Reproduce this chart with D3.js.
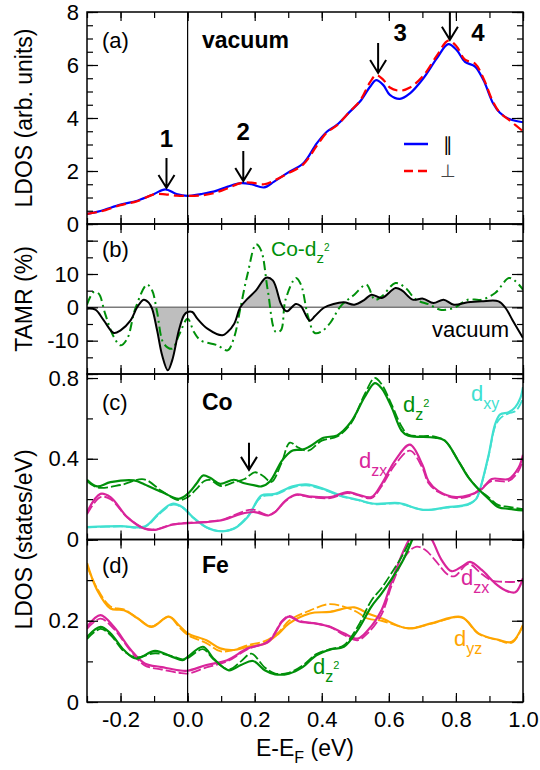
<!DOCTYPE html>
<html>
<head>
<meta charset="utf-8">
<script src="https://cdn.jsdelivr.net/npm/d3@7"></script>
<style>
    body { margin: 0; background: #fff; }
    svg text { font-family: "Liberation Sans", Arial, Helvetica, sans-serif; }
</style>
</head>
<body>
<svg id="chart" width="540" height="770"></svg>
<script>
// ---------- Data (energies in eV) ----------

// (a) vacuum LDOS, arb. units
var ldosPar = [[-0.30,0.38],[-0.26,0.49],[-0.20,0.73],[-0.15,0.88],[-0.10,1.13],[-0.067,1.31],[-0.033,1.13],[0.0,1.06],[0.04,1.13],[0.08,1.23],[0.12,1.41],[0.16,1.54],[0.19,1.50],[0.228,1.38],[0.258,1.6],[0.298,1.93],[0.345,2.29],[0.385,3.04],[0.415,3.48],[0.445,3.74],[0.484,4.24],[0.514,4.62],[0.544,5.18],[0.562,5.43],[0.583,5.25],[0.603,4.87],[0.633,4.72],[0.663,4.93],[0.703,5.5],[0.743,6.25],[0.777,6.79],[0.802,6.57],[0.827,6.12],[0.857,5.94],[0.882,5.43],[0.911,4.55],[0.931,4.2],[0.961,3.95],[1.0,3.84]];
var ldosPerp = [[-0.30,0.38],[-0.26,0.47],[-0.20,0.71],[-0.15,0.86],[-0.10,1.12],[-0.067,1.12],[-0.033,1.07],[0.0,1.06],[0.04,1.08],[0.08,1.17],[0.12,1.35],[0.16,1.55],[0.19,1.56],[0.228,1.5],[0.258,1.64],[0.298,1.9],[0.345,2.25],[0.385,2.95],[0.415,3.45],[0.445,3.72],[0.484,4.25],[0.514,4.65],[0.544,5.35],[0.562,5.62],[0.583,5.45],[0.603,5.15],[0.633,5.03],[0.663,5.15],[0.703,5.6],[0.743,6.35],[0.777,6.92],[0.802,6.7],[0.827,6.2],[0.857,6.05],[0.882,5.5],[0.911,4.6],[0.931,4.2],[0.961,3.9],[1.0,3.5]];
var peakEnergies = [-0.063, 0.166, 0.568, 0.782];
var peakHeights = [1.36, 1.62, 5.70, 6.95];
var peakLabels = ['1', '2', '3', '4'];

// (b) TAMR, %
var tamrVacuum = [[-0.30,-0.4],[-0.275,-0.7],[-0.25,-3.9],[-0.22,-7.7],[-0.20,-6.9],[-0.17,-3.9],[-0.15,0.1],[-0.131,2.3],[-0.116,1.4],[-0.106,-0.4],[-0.091,-6.9],[-0.076,-14.4],[-0.059,-18.9],[-0.046,-15.9],[-0.026,-6.9],[-0.011,-2.4],[0.0,-1.4],[0.014,-1.4],[0.029,-3.4],[0.059,-6.4],[0.104,-8.4],[0.119,-7.4],[0.139,-4.9],[0.157,0],[0.179,2.6],[0.204,5.1],[0.234,8.9],[0.254,8.1],[0.278,1.1],[0.29,-0.9],[0.297,-1.2],[0.323,1.0],[0.338,0.3],[0.364,-4.0],[0.379,-2.7],[0.405,-0.2],[0.435,1.0],[0.466,1.5],[0.497,0.8],[0.528,2.3],[0.548,3.8],[0.579,2.8],[0.62,5.8],[0.64,5.0],[0.671,2.3],[0.702,2.6],[0.733,1.3],[0.763,2.3],[0.794,0.8],[0.835,1.5],[0.876,1.8],[0.927,1.8],[0.948,-0.2],[0.968,-3.7],[1.0,-9.2]];
var tamrCoDz2 = [[-0.30,0.8],[-0.28,4.6],[-0.265,4.1],[-0.246,-1.9],[-0.22,-8.9],[-0.20,-11.4],[-0.18,-9.4],[-0.156,-0.4],[-0.121,6.8],[-0.106,5.1],[-0.091,-1.4],[-0.071,-10.9],[-0.046,-12.4],[-0.026,-8.4],[0.0,-3.4],[0.019,-7.4],[0.039,-9.9],[0.089,-11.4],[0.119,-12.9],[0.139,-8.9],[0.157,-0.4],[0.179,10.1],[0.204,18.9],[0.219,17.1],[0.239,5.1],[0.263,-7.4],[0.278,-6.9],[0.292,2.3],[0.323,8.8],[0.338,6.8],[0.359,-2.7],[0.379,-7.7],[0.40,-7.2],[0.425,-4.7],[0.456,0.3],[0.497,3.8],[0.533,6.8],[0.558,2.3],[0.579,3.3],[0.62,7.3],[0.65,5.8],[0.681,2.3],[0.722,0.8],[0.753,-0.7],[0.794,-0.2],[0.835,2.3],[0.876,2.3],[0.917,4.3],[0.958,8.8],[0.978,7.8],[1.0,5.3]];
var tamrFillRanges = [[-0.106, 0.0], [0.157, 0.278], [0.405, 0.948]];

// (c) Co LDOS, states/eV  (solid = parallel, dashed = perpendicular)
var coDz2Par = [[-0.30,0.296],[-0.27,0.263],[-0.23,0.284],[-0.16,0.293],[-0.128,0.273],[-0.077,0.235],[-0.026,0.202],[0.0,0.226],[0.026,0.276],[0.046,0.317],[0.067,0.306],[0.097,0.276],[0.138,0.296],[0.169,0.279],[0.2,0.268],[0.22,0.263],[0.246,0.289],[0.282,0.392],[0.313,0.441],[0.343,0.445],[0.364,0.461],[0.405,0.504],[0.446,0.516],[0.487,0.582],[0.528,0.706],[0.558,0.775],[0.578,0.75],[0.608,0.656],[0.638,0.539],[0.658,0.514],[0.737,0.505],[0.767,0.49],[0.807,0.39],[0.837,0.308],[0.867,0.25],[0.897,0.202],[0.927,0.16],[0.958,0.152],[1.0,0.144]];
var coDz2Perp = [[-0.30,0.29],[-0.27,0.258],[-0.2,0.27],[-0.13,0.298],[-0.077,0.24],[-0.026,0.195],[0.0,0.21],[0.026,0.25],[0.05,0.29],[0.067,0.295],[0.1,0.265],[0.14,0.285],[0.17,0.3],[0.2,0.333],[0.225,0.315],[0.25,0.285],[0.28,0.38],[0.305,0.48],[0.33,0.455],[0.36,0.44],[0.4,0.49],[0.446,0.51],[0.487,0.575],[0.528,0.72],[0.558,0.8],[0.578,0.77],[0.608,0.67],[0.638,0.56],[0.658,0.52],[0.737,0.51],[0.767,0.49],[0.807,0.39],[0.837,0.31],[0.867,0.25],[0.897,0.21],[0.927,0.17],[0.958,0.162],[1.0,0.15]];
var coDzxPar = [[-0.30,0.136],[-0.26,0.226],[-0.23,0.21],[-0.18,0.111],[-0.128,0.053],[-0.097,0.048],[-0.046,0.073],[0.0,0.081],[0.056,0.086],[0.108,0.098],[0.159,0.127],[0.2,0.136],[0.241,0.119],[0.261,0.136],[0.292,0.193],[0.323,0.223],[0.364,0.213],[0.425,0.21],[0.476,0.235],[0.507,0.223],[0.548,0.21],[0.579,0.276],[0.618,0.39],[0.663,0.47],[0.7,0.37],[0.718,0.29],[0.748,0.24],[0.8,0.21],[0.84,0.22],[0.877,0.25],[0.907,0.3],[0.957,0.30],[0.987,0.357],[1.0,0.42]];
var coDzxPerp = [[-0.30,0.125],[-0.26,0.21],[-0.23,0.2],[-0.18,0.11],[-0.128,0.055],[-0.097,0.05],[-0.046,0.075],[0.0,0.083],[0.056,0.088],[0.108,0.1],[0.159,0.135],[0.195,0.148],[0.241,0.12],[0.261,0.138],[0.292,0.19],[0.323,0.22],[0.364,0.21],[0.425,0.205],[0.476,0.23],[0.507,0.22],[0.548,0.205],[0.579,0.265],[0.618,0.37],[0.663,0.44],[0.7,0.355],[0.718,0.28],[0.748,0.235],[0.8,0.205],[0.84,0.215],[0.877,0.255],[0.907,0.29],[0.957,0.29],[0.987,0.34],[1.0,0.4]];
var coDxyPar = [[-0.30,0.061],[-0.2,0.066],[-0.128,0.064],[-0.087,0.127],[-0.046,0.177],[-0.015,0.16],[0.015,0.111],[0.056,0.061],[0.097,0.041],[0.138,0.053],[0.179,0.111],[0.22,0.218],[0.261,0.226],[0.313,0.263],[0.354,0.273],[0.405,0.251],[0.456,0.218],[0.507,0.197],[0.558,0.177],[0.63,0.18],[0.702,0.147],[0.774,0.16],[0.835,0.174],[0.86,0.2],[0.872,0.25],[0.897,0.415],[0.917,0.572],[0.932,0.62],[0.957,0.63],[0.977,0.656],[0.992,0.70],[1.0,0.755]];
var coDxyPerp = [[-0.30,0.06],[-0.2,0.065],[-0.128,0.063],[-0.087,0.122],[-0.046,0.172],[-0.015,0.158],[0.015,0.11],[0.056,0.06],[0.097,0.042],[0.138,0.055],[0.179,0.115],[0.22,0.21],[0.261,0.222],[0.313,0.258],[0.354,0.268],[0.405,0.248],[0.456,0.215],[0.507,0.195],[0.558,0.175],[0.63,0.178],[0.702,0.147],[0.774,0.158],[0.835,0.172],[0.86,0.2],[0.872,0.25],[0.897,0.41],[0.917,0.56],[0.932,0.60],[0.957,0.625],[0.977,0.635],[0.992,0.67],[1.0,0.705]];
var coArrowEnergy = 0.183;
var coArrowHeight = 0.345;

// (d) Fe LDOS, states/eV
var feDyzPar = [[-0.30,0.342],[-0.27,0.276],[-0.23,0.23],[-0.19,0.226],[-0.149,0.206],[-0.108,0.185],[-0.056,0.21],[-0.026,0.189],[0.0,0.169],[0.056,0.152],[0.097,0.132],[0.138,0.128],[0.179,0.136],[0.23,0.144],[0.272,0.169],[0.302,0.193],[0.364,0.218],[0.425,0.222],[0.497,0.233],[0.538,0.218],[0.578,0.206],[0.658,0.181],[0.728,0.194],[0.817,0.209],[0.867,0.169],[0.927,0.153],[0.967,0.148],[1.0,0.19]];
var feDyzPerp = [[-0.30,0.335],[-0.27,0.28],[-0.23,0.235],[-0.19,0.228],[-0.149,0.206],[-0.108,0.186],[-0.056,0.21],[-0.026,0.185],[0.0,0.165],[0.056,0.145],[0.097,0.125],[0.138,0.128],[0.179,0.14],[0.23,0.15],[0.272,0.172],[0.302,0.2],[0.364,0.225],[0.425,0.241],[0.497,0.225],[0.538,0.205],[0.578,0.2],[0.658,0.182],[0.728,0.193],[0.817,0.208],[0.867,0.168],[0.927,0.152],[0.967,0.146],[1.0,0.188]];
var feDzxPar = [[-0.30,0.185],[-0.26,0.214],[-0.22,0.185],[-0.169,0.128],[-0.128,0.095],[-0.077,0.086],[-0.026,0.078],[0.0,0.077],[0.056,0.091],[0.118,0.103],[0.179,0.132],[0.241,0.148],[0.282,0.198],[0.302,0.21],[0.333,0.198],[0.384,0.193],[0.425,0.185],[0.466,0.169],[0.507,0.156],[0.538,0.177],[0.578,0.226],[0.61,0.30],[0.65,0.383],[0.68,0.42],[0.708,0.42],[0.728,0.40],[0.757,0.35],[0.787,0.322],[0.817,0.333],[0.842,0.345],[0.877,0.325],[0.917,0.292],[0.947,0.275],[0.977,0.27],[1.0,0.305]];
var feDzxPerp = [[-0.30,0.18],[-0.26,0.205],[-0.22,0.18],[-0.169,0.125],[-0.128,0.09],[-0.077,0.08],[-0.026,0.072],[0.0,0.07],[0.056,0.085],[0.118,0.1],[0.179,0.13],[0.241,0.15],[0.282,0.2],[0.302,0.212],[0.333,0.2],[0.384,0.193],[0.425,0.185],[0.466,0.165],[0.507,0.152],[0.538,0.17],[0.578,0.215],[0.61,0.29],[0.65,0.36],[0.68,0.382],[0.708,0.375],[0.737,0.35],[0.777,0.313],[0.797,0.31],[0.837,0.34],[0.877,0.315],[0.907,0.299],[0.937,0.296],[0.977,0.296],[1.0,0.3]];
var feDz2Par = [[-0.30,0.16],[-0.26,0.185],[-0.23,0.169],[-0.19,0.128],[-0.154,0.107],[-0.097,0.126],[-0.046,0.111],[-0.015,0.103],[0.0,0.111],[0.046,0.136],[0.077,0.107],[0.123,0.078],[0.159,0.091],[0.195,0.101],[0.23,0.078],[0.261,0.068],[0.302,0.07],[0.343,0.086],[0.384,0.115],[0.425,0.129],[0.466,0.136],[0.507,0.177],[0.548,0.235],[0.578,0.267],[0.61,0.305],[0.64,0.345],[0.67,0.4],[0.69,0.44]];
var feDz2Perp = [[-0.30,0.155],[-0.26,0.18],[-0.23,0.165],[-0.19,0.125],[-0.154,0.11],[-0.097,0.12],[-0.046,0.113],[-0.015,0.105],[0.0,0.108],[0.046,0.13],[0.077,0.105],[0.123,0.08],[0.159,0.1],[0.19,0.119],[0.23,0.085],[0.261,0.07],[0.302,0.072],[0.343,0.09],[0.384,0.118],[0.425,0.13],[0.466,0.14],[0.507,0.185],[0.548,0.25],[0.578,0.28],[0.61,0.32],[0.64,0.36],[0.67,0.41],[0.69,0.45]];

// Ticks
var xMinorTicks = [-0.3,-0.2,-0.1,0,0.1,0.2,0.3,0.4,0.5,0.6,0.7,0.8,0.9,1.0];
var xTickLabels = [-0.2,0,0.2,0.4,0.6,0.8,1.0];

// ---------- Layout ----------
var svg = d3.select('#chart'),
    left = 87, right = 523,
    colors = { blue: '#0000ff', red: '#ff0000', green: '#00900a', magenta: '#d9259b', cyan: '#40e0d0', orange: '#ffa500', black: '#000' },
    x = d3.scaleLinear().domain([-0.3, 1.0]).range([left, right]),
    smooth = d3.curveCatmullRom.alpha(0.5);

var panels = [
    { id: 'a', top: 12, bottom: 224, domain: [0, 8], minor: [0,0.5,1,1.5,2,2.5,3,3.5,4,4.5,5,5.5,6,6.5,7,7.5,8], major: [0,2,4,6,8], labelled: [0,2,4,6,8], tag: 36 },
    { id: 'b', top: 224, bottom: 374, domain: [-20, 25], minor: [-20,-15,-10,-5,0,5,10,15,20,25], major: [-20,-10,0,10,20], labelled: [-10,0,10], tag: 33 },
    { id: 'c', top: 374, bottom: 539.5, domain: [0, 0.82], minor: [0,0.2,0.4,0.6,0.8], major: [0,0.4,0.8], labelled: [0,0.4,0.8], tag: 36 },
    { id: 'd', top: 539.5, bottom: 702, domain: [0, 0.4], minor: [0,0.1,0.2,0.3,0.4], major: [0,0.2,0.4], labelled: [0,0.2], tag: 33 }
];
panels.forEach(function ( p ) {
    p.y = d3.scaleLinear().domain(p.domain).range([p.bottom, p.top]);
});
var yA = panels[0].y, yB = panels[1].y, yC = panels[2].y, yD = panels[3].y;

var defs = svg.append('defs');
panels.forEach(function ( p ) {
    defs.append('clipPath').attr('id', 'clip_' + p.id)
        .append('rect')
        .attr('x', left).attr('y', p.top)
        .attr('width', right - left).attr('height', p.bottom - p.top);
});

function lineFor( y ) {
    return d3.line().x(d => x(d[0])).y(d => y(d[1])).curve(smooth);
}

function drawSeries( p, data, color, width, dash ) {
    svg.append('path')
        .datum(data)
        .attr('clip-path', 'url(#clip_' + p.id + ')')
        .attr('fill', 'none')
        .attr('stroke', color)
        .attr('stroke-width', width)
        .attr('stroke-dasharray', dash || null)
        .attr('stroke-linejoin', 'round')
        .attr('d', lineFor(p.y));
}

function styleAxis( g ) {
    g.select('.domain').remove();
    g.selectAll('line').attr('stroke', '#000').attr('stroke-width', 1.2);
    g.selectAll('text')
        .attr('font-family', '"Liberation Sans", Arial, Helvetica, sans-serif')
        .attr('font-size', 22)
        .attr('fill', '#000');
}

function drawAxes( p, isBottom ) {
    var fmt = d => p.labelled.indexOf(d) >= 0 ? String(d) : '';
    // left, minor + major with labels
    svg.append('g').attr('transform', 'translate(' + left + ',0)')
        .call(d3.axisLeft(p.y).tickValues(p.minor).tickSize(-6).tickFormat(() => '')).call(styleAxis);
    svg.append('g').attr('transform', 'translate(' + left + ',0)')
        .call(d3.axisLeft(p.y).tickValues(p.major).tickSize(-11).tickPadding(8).tickFormat(fmt)).call(styleAxis);
    // right, mirrored
    svg.append('g').attr('transform', 'translate(' + right + ',0)')
        .call(d3.axisRight(p.y).tickValues(p.minor).tickSize(-6).tickFormat(() => '')).call(styleAxis);
    svg.append('g').attr('transform', 'translate(' + right + ',0)')
        .call(d3.axisRight(p.y).tickValues(p.major).tickSize(-11).tickFormat(() => '')).call(styleAxis);
    // top and bottom
    svg.append('g').attr('transform', 'translate(0,' + p.top + ')')
        .call(d3.axisTop(x).tickValues(xMinorTicks).tickSize(-6).tickFormat(() => '')).call(styleAxis);
    svg.append('g').attr('transform', 'translate(0,' + p.bottom + ')')
        .call(d3.axisBottom(x).tickValues(xMinorTicks).tickSize(-6).tickFormat(() => '')).call(styleAxis);
    svg.append('g').attr('transform', 'translate(0,' + p.top + ')')
        .call(d3.axisTop(x).tickValues(xTickLabels).tickSize(-9).tickFormat(() => '')).call(styleAxis);
    svg.append('g').attr('transform', 'translate(0,' + p.bottom + ')')
        .call(d3.axisBottom(x).tickValues(xTickLabels).tickSize(-9).tickPadding(isBottom ? 9 : 3)
            .tickFormat(d => isBottom ? d.toFixed(1) : '')).call(styleAxis);
}

function addText( tx, ty, str, opts ) {
    opts = opts || {};
    return svg.append('text')
        .attr('x', tx).attr('y', ty)
        .attr('font-size', opts.size || 22)
        .attr('font-weight', opts.bold ? 'bold' : null)
        .attr('fill', opts.color || '#000')
        .attr('text-anchor', opts.anchor || 'start')
        .text(str);
}

// orbital label like d_zx or d_z^2
function orbital( tx, ty, prefix, sub, sup, color ) {
    var t = addText(tx, ty, prefix, { color: color });
    t.append('tspan').attr('font-size', 16).attr('dy', 8).text(sub);
    if ( sup ) {
        t.append('tspan').attr('font-size', 11).attr('dy', -13).text(sup);
    }
    return t;
}

function arrow( ax, tipY, len ) {
    var h = 13, w = 8;
    svg.append('path')
        .attr('fill', 'none').attr('stroke', '#000').attr('stroke-width', 2)
        .attr('d', 'M' + ax + ',' + (tipY - len) + 'L' + ax + ',' + tipY +
            'M' + (ax - w) + ',' + (tipY - h) + 'L' + ax + ',' + tipY + 'L' + (ax + w) + ',' + (tipY - h));
}

// ---------- Panel (a) ----------
var pA = panels[0];
drawSeries(pA, ldosPar, colors.blue, 2.2);
drawSeries(pA, ldosPerp, colors.red, 2.2, '10,5');

peakEnergies.forEach(function ( e, i ) {
    var ax = x(e), tip = yA(peakHeights[i]), top = Math.max(tip - 30, pA.top);
    arrow(ax, tip, tip - top);
    if ( i < 2 ) {
        addText(ax, top - 11, peakLabels[i], { bold: true, size: 24, anchor: 'middle' });
    } else {
        addText(ax + (i === 2 ? 22 : 28), pA.top + 29, peakLabels[i], { bold: true, size: 24, anchor: 'middle' });
    }
});

// legend
svg.append('line').attr('x1', 404).attr('x2', 428).attr('y1', 144).attr('y2', 144)
    .attr('stroke', colors.blue).attr('stroke-width', 2.5);
svg.append('line').attr('x1', 404).attr('x2', 428).attr('y1', 171).attr('y2', 171)
    .attr('stroke', colors.red).attr('stroke-width', 2.5).attr('stroke-dasharray', '9,5');
addText(448, 151, '\u2225', { size: 19, anchor: 'middle' }).attr('font-family', '"DejaVu Sans", sans-serif');
addText(448, 177, '\u22A5', { size: 18, anchor: 'middle' }).attr('font-family', '"DejaVu Sans", sans-serif').attr('fill', '#444');

// ---------- Panel (b) ----------
var pB = panels[1];
var inFill = e => tamrFillRanges.some(r => e >= r[0] - 1e-9 && e <= r[1] + 1e-9);
svg.append('path')
    .datum(tamrVacuum)
    .attr('clip-path', 'url(#clip_b)')
    .attr('fill', '#bebebe')
    .attr('d', d3.area().defined(d => inFill(d[0])).x(d => x(d[0])).y0(yB(0)).y1(d => yB(d[1])).curve(smooth));
svg.append('line')
    .attr('x1', left).attr('x2', right).attr('y1', yB(0)).attr('y2', yB(0))
    .attr('stroke', '#7a7a7a').attr('stroke-width', 1.5);
drawSeries(pB, tamrCoDz2, colors.green, 2, '9,4,2,4');
drawSeries(pB, tamrVacuum, colors.black, 2);

// ---------- Panel (c) ----------
var pC = panels[2];
drawSeries(pC, coDxyPerp, colors.cyan, 1.8, '10,3');
drawSeries(pC, coDxyPar, colors.cyan, 2.2);
drawSeries(pC, coDzxPerp, colors.magenta, 1.8, '10,3');
drawSeries(pC, coDzxPar, colors.magenta, 2.2);
drawSeries(pC, coDz2Perp, colors.green, 1.8, '10,3');
drawSeries(pC, coDz2Par, colors.green, 2.2);
arrow(x(coArrowEnergy), yC(coArrowHeight), 27);

// ---------- Panel (d) ----------
var pD = panels[3];
drawSeries(pD, feDyzPerp, colors.orange, 1.8, '10,3');
drawSeries(pD, feDyzPar, colors.orange, 2.2);
drawSeries(pD, feDzxPerp, colors.magenta, 1.8, '10,3');
drawSeries(pD, feDzxPar, colors.magenta, 2.2);
drawSeries(pD, feDz2Perp, colors.green, 1.8, '10,3');
drawSeries(pD, feDz2Par, colors.green, 2.2);

// E = E_F line through all panels
svg.append('line')
    .attr('x1', x(0)).attr('x2', x(0)).attr('y1', pA.top).attr('y2', pD.bottom)
    .attr('stroke', '#000').attr('stroke-width', 1.2);

// frames and axes
panels.forEach(function ( p, i ) {
    drawAxes(p, i === panels.length - 1);
    svg.append('rect')
        .attr('x', left).attr('y', p.top)
        .attr('width', right - left).attr('height', p.bottom - p.top)
        .attr('fill', 'none').attr('stroke', '#000').attr('stroke-width', 1.5);
    addText(left + 15, p.top + p.tag, '(' + p.id + ')');
});

// panel titles
addText(202, pA.top + 36, 'vacuum', { bold: true, size: 23 });
addText(202, pC.top + 36, 'Co', { bold: true, size: 23 });
addText(202, pD.top + 33, 'Fe', { bold: true, size: 23 });

// curve labels
var coLab = addText(271, pB.top + 32, 'Co-d', { color: colors.green, size: 21 });
coLab.append('tspan').attr('font-size', 15).attr('dy', 7).text('z');
coLab.append('tspan').attr('font-size', 10).attr('dy', -12).text('2');
addText(509, pB.top + 113, 'vacuum', { anchor: 'end' });

orbital(403, 412, 'd', 'z', '2', colors.green);
orbital(471, 401, 'd', 'xy', null, colors.cyan);
orbital(359, 468, 'd', 'zx', null, colors.magenta);
orbital(461, 585, 'd', 'zx', null, colors.magenta);
orbital(454, 646, 'd', 'yz', null, colors.orange);
orbital(313, 674, 'd', 'z', '2', colors.green);

// axis titles
function yTitle( cy, str ) {
    svg.append('text')
        .attr('transform', 'translate(24,' + cy + ') rotate(-90)')
        .attr('dy', '0.35em')
        .attr('text-anchor', 'middle')
        .attr('font-size', 23)
        .text(str);
}
yTitle((pA.top + pA.bottom) / 2, 'LDOS (arb. units)');
yTitle((pB.top + pB.bottom) / 2, 'TAMR (%)');
yTitle(pC.bottom, 'LDOS (states/eV)');

var xt = addText((left + right) / 2, 756, 'E-E', { size: 23, anchor: 'middle' });
xt.append('tspan').attr('font-size', 16).attr('dy', 7).text('F');
xt.append('tspan').attr('dy', -7).text(' (eV)');
</script>
</body>
</html>
